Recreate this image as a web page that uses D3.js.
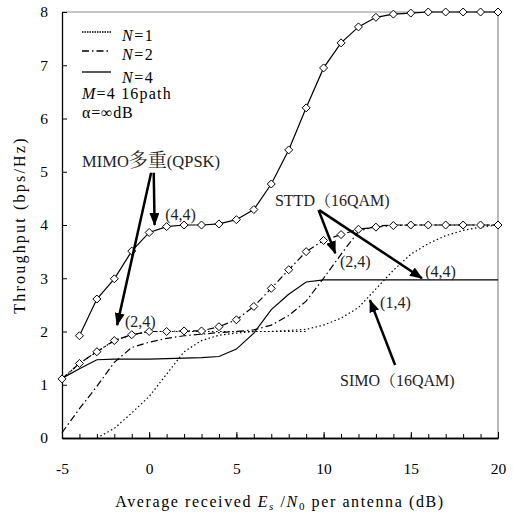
<!DOCTYPE html>
<html>
<head>
<meta charset="utf-8">
<script src="https://cdn.jsdelivr.net/npm/d3@7"></script>
<style>
  body { margin: 0; background: #fff; }
</style>
</head>
<body>
<div id="container"></div>
<script>
// x values (dB) for each series
let snrFull = [-5, -4, -3, -2, -1, 0, 1, 2, 3, 4, 5, 6, 7, 8, 9, 10, 11, 12, 13, 14, 15, 16, 17, 18, 19, 20];
let snrFrom4 = [-4, -3, -2, -1, 0, 1, 2, 3, 4, 5, 6, 7, 8, 9, 10, 11, 12, 13, 14, 15, 16, 17, 18, 19, 20];
let snrFrom3 = [-3, -2, -1, 0, 1, 2, 3, 4, 5, 6, 7, 8, 9, 10, 11, 12, 13, 14, 15, 16, 17, 18, 19, 20];
let snrTo9 = [-5, -4, -3, -2, -1, 0, 1, 2, 3, 4, 5, 6, 7, 8, 9];

// MIMO multiplexing (QPSK)
let mimoN4 = [1.92, 2.61, 2.99, 3.51, 3.86, 3.97, 4.0, 4.0, 4.02, 4.1, 4.29, 4.77, 5.41, 6.2, 6.95, 7.42, 7.72, 7.9, 7.96, 7.98, 8.0, 8.0, 8.0, 8.0, 8.0];
let mimoN2 = [1.11, 1.40, 1.62, 1.83, 1.94, 2.0, 2.0, 2.01, 2.01, 2.09, 2.22, 2.47, 2.81, 3.16, 3.5, 3.71, 3.82, 3.92, 3.96, 3.99, 4.0, 4.0, 4.0, 4.0, 4.0, 4.0];
let mimoN1 = [1.11, 1.40, 1.62, 1.83, 1.94, 2.0, 2.0, 2.0, 2.0, 2.0, 2.0, 2.0, 2.0, 2.0, 2.0];

// STTD / SIMO (16QAM)
let sttdN4 = [1.12, 1.3, 1.47, 1.48, 1.48, 1.48, 1.49, 1.5, 1.51, 1.53, 1.67, 1.97, 2.41, 2.7, 2.93, 2.97, 2.97, 2.97, 2.97, 2.97, 2.97, 2.97, 2.97, 2.97, 2.97, 2.97];
let sttdN2 = [0.1, 0.55, 0.97, 1.42, 1.7, 1.8, 1.87, 1.92, 1.95, 1.98, 2.0, 2.03, 2.12, 2.3, 2.57, 3.0, 3.45, 3.88, 3.98, 4.0, 4.0, 4.0, 4.0, 4.0, 4.0, 4.0];
let simoN1 = [0.0, 0.18, 0.47, 0.78, 1.2, 1.62, 1.83, 1.93, 1.97, 2.0, 2.0, 2.02, 2.04, 2.12, 2.25, 2.45, 2.8, 3.15, 3.45, 3.65, 3.8, 3.9, 3.96, 4.0];

// ticks
let xTicks = [-5, 0, 5, 10, 15, 20];
let yTicks = [0, 1, 2, 3, 4, 5, 6, 7, 8];
let legendLabels = ["1", "2", "4"];

let w = 513;
let h = 517;
let font = "Liberation Serif, Noto Serif CJK JP, serif";

let viz = d3.select("#container")
  .append("svg")
    .attr("width", w)
    .attr("height", h)
    .style("background-color", "white")
    .style("font-family", font)
;

let x = d3.scaleLinear().domain([-5, 20]).range([62, 498]);
let y = d3.scaleLinear().domain([0, 8]).range([438, 12]);

let dashes = {
  dot: "1.5,2.5",
  dashdot: "7,3,1.5,3",
  solid: null
};

let series = [
  { xs: snrFull, ys: sttdN2, dash: dashes.dashdot, marker: false },
  { xs: snrFrom3, ys: simoN1, dash: dashes.dot, marker: false },
  { xs: snrFull, ys: sttdN4, dash: dashes.solid, marker: false },
  { xs: snrTo9, ys: mimoN1, dash: dashes.dot, marker: false },
  { xs: snrFull, ys: mimoN2, dash: dashes.dashdot, marker: true },
  { xs: snrFrom4, ys: mimoN4, dash: dashes.solid, marker: true }
];

// frame top / right
viz.append("line")
    .attr("x1", x(-5)).attr("x2", x(20))
    .attr("y1", y(8)).attr("y2", y(8))
    .style("stroke", "#8c8c8c")
    .style("stroke-width", 1.2)
;
viz.append("line")
    .attr("x1", x(20)).attr("x2", x(20))
    .attr("y1", y(8)).attr("y2", y(0))
    .style("stroke", "#8c8c8c")
    .style("stroke-width", 1.2)
;

// axes
let xAxis = d3.axisBottom(x)
    .tickValues(xTicks)
    .tickSizeInner(-6)
    .tickSizeOuter(0)
    .tickPadding(25)
    .tickFormat(d => d);

let xMinor = d3.axisBottom(x)
    .tickValues(snrFull)
    .tickSizeInner(-4)
    .tickSizeOuter(0)
    .tickFormat("");

let yAxis = d3.axisLeft(y)
    .tickValues(yTicks)
    .tickSizeInner(-5)
    .tickSizeOuter(0)
    .tickPadding(14)
    .tickFormat(d => d);

let gxm = viz.append("g").attr("transform", "translate(0," + y(0) + ")").call(xMinor);
let gx = viz.append("g").attr("transform", "translate(0," + y(0) + ")").call(xAxis);
let gy = viz.append("g").attr("transform", "translate(" + x(-5) + ",0)").call(yAxis);

[gx, gy, gxm].forEach(g => {
  g.attr("font-family", font).attr("font-size", 15.5);
  g.selectAll("path.domain").style("stroke", "black").style("stroke-width", 1.3);
  g.selectAll(".tick line").style("stroke", "black").style("stroke-width", 1);
  g.selectAll("text").attr("fill", "black");
});

// curves
let line = d3.line()
    .x(d => x(d[0]))
    .y(d => y(d[1]));

series.forEach(s => {
  let pts = s.xs.map((v, i) => [v, s.ys[i]]);
  viz.append("path")
      .datum(pts)
      .attr("d", line)
      .attr("fill", "none")
      .style("stroke", "black")
      .style("stroke-width", 1.2)
      .style("stroke-dasharray", s.dash)
  ;
  if (s.marker) {
    viz.append("g")
      .selectAll("path")
      .data(pts)
      .enter()
      .append("path")
        .attr("d", "M 0 -4 L 4 0 L 0 4 L -4 0 Z")
        .attr("transform", d => "translate(" + x(d[0]) + "," + y(d[1]) + ")")
        .attr("fill", "white")
        .style("stroke", "black")
        .style("stroke-width", 1)
    ;
  }
});

// legend
let legendDash = ["1.5,1", dashes.dashdot, dashes.solid];
let legendLineY = [32, 51, 72];
let legendTextY = [41, 60, 83];
legendLabels.forEach((lab, i) => {
  viz.append("line")
      .attr("x1", 82).attr("x2", 111)
      .attr("y1", legendLineY[i]).attr("y2", legendLineY[i])
      .style("stroke", "black")
      .style("stroke-width", 1.3)
      .style("stroke-dasharray", legendDash[i])
  ;
  let t = viz.append("text")
      .attr("x", 122)
      .attr("y", legendTextY[i])
      .style("font-size", "16px")
      .style("letter-spacing", "1.5px");
  t.append("tspan").text("N").style("font-style", "italic");
  t.append("tspan").text("=" + lab);
});

let mText = viz.append("text")
    .attr("x", 82).attr("y", 99)
    .style("font-size", "16px")
    .style("letter-spacing", "1.2px");
mText.append("tspan").text("M").style("font-style", "italic");
mText.append("tspan").text("=4 16path");

viz.append("text")
    .text("α=∞dB")
    .attr("x", 82).attr("y", 118)
    .style("font-size", "16px")
    .style("letter-spacing", "0.8px")
;

// axis titles
viz.append("text")
    .text("Throughput (bps/Hz)")
    .attr("transform", "translate(25," + y(4) + ") rotate(-90)")
    .attr("text-anchor", "middle")
    .style("font-size", "16px")
    .style("letter-spacing", "2.2px")
;

let xt = viz.append("text")
    .attr("x", (x(-5) + x(20)) / 2)
    .attr("y", 507)
    .attr("text-anchor", "middle")
    .style("font-size", "16px")
    .style("letter-spacing", "1.6px");
xt.append("tspan").text("Average received ");
xt.append("tspan").text("E").style("font-style", "italic");
xt.append("tspan").text("s").style("font-style", "italic").style("font-size", "11px").attr("dy", 3);
xt.append("tspan").text(" /").attr("dy", -3);
xt.append("tspan").text("N").style("font-style", "italic");
xt.append("tspan").text("0").style("font-size", "11px").attr("dy", 3);
xt.append("tspan").text(" per antenna (dB)").attr("dy", -3);

// annotations
viz.append("defs").append("marker")
    .attr("id", "head")
    .attr("markerUnits", "userSpaceOnUse")
    .attr("viewBox", "0 0 13 10")
    .attr("refX", 12)
    .attr("refY", 5)
    .attr("markerWidth", 13)
    .attr("markerHeight", 10)
    .attr("orient", "auto")
  .append("path")
    .attr("d", "M 0 0 L 13 5 L 0 10 Z")
    .attr("fill", "black")
;

let arrows = [
  [[0.26, 4.98], [0.31, 4.0]],
  [[0.11, 4.98], [-1.84, 2.12]],
  [[9.71, 4.28], [10.67, 3.47]],
  [[9.75, 4.28], [15.64, 3.0]],
  [[14.1, 1.37], [12.66, 2.59]]
];
arrows.forEach(a => {
  viz.append("line")
      .attr("x1", x(a[0][0])).attr("y1", y(a[0][1]))
      .attr("x2", x(a[1][0])).attr("y2", y(a[1][1]))
      .style("stroke", "black")
      .style("stroke-width", 2.5)
      .attr("marker-end", "url(#head)")
  ;
});

// MIMO label with larger kanji
let mimoT = viz.append("text")
    .attr("x", x(-3.85))
    .attr("y", y(5.09))
    .style("font-size", "16.5px")
    .attr("fill", "#222");
mimoT.append("tspan").text("MIMO");
mimoT.append("tspan").text("多重").style("font-size", "19px");
mimoT.append("tspan").text("(QPSK)");

let notes = [
  ["(4,4)", 0.92, 4.09],
  ["(2,4)", -1.39, 2.09],
  ["STTD（16QAM)", 7.21, 4.36],
  ["(2,4)", 10.94, 3.21],
  ["(4,4)", 15.83, 3.02],
  ["(1,4)", 13.24, 2.44],
  ["SIMO（16QAM)", 10.94, 0.98]
];
notes.forEach(n => {
  viz.append("text")
      .text(n[0])
      .attr("x", x(n[1]))
      .attr("y", y(n[2]))
      .style("font-size", "16px")
      .attr("fill", "#222")
  ;
});
</script>
</body>
</html>
